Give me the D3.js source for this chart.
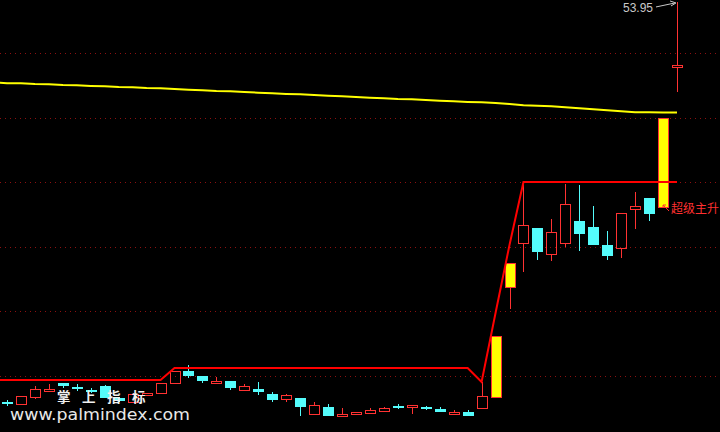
<!DOCTYPE html>
<html><head><meta charset="utf-8">
<script src="https://cdn.jsdelivr.net/npm/d3@7/dist/d3.min.js"></script>
<style>html,body{margin:0;padding:0;background:#000;overflow:hidden}</style>
</head><body><svg id="c" width="720" height="432"></svg>
<script>
// ---- data (prices) ----
const opens  = [22.99,22.83,23.37,23.84,24.46,24.15,23.92,24.23,23.30,22.99,23.53,23.68,24.46,25.39,25.00,24.46,24.61,23.92,23.99,23.61,23.22,23.30,22.06,22.60,21.90,22.06,22.14,22.29,22.68,22.60,22.60,22.45,22.06,22.21,22.52,23.37,31.89,35.29,36.46,34.44,35.29,37.00,36.53,35.14,34.91,37.93,38.78,38.08,48.92];
const highs  = [23.14,23.45,24.23,24.38,24.46,24.38,24.07,24.30,23.37,23.68,23.68,24.46,25.39,25.85,25.00,24.92,24.61,24.38,24.54,23.76,23.61,23.30,22.99,22.83,22.52,22.21,22.52,22.60,22.83,22.76,22.68,22.60,22.37,22.37,24.54,28.10,33.75,40.02,36.46,37.15,39.86,39.78,38.16,36.22,37.62,39.24,38.78,44.97,53.95];
const lows   = [22.68,22.83,23.22,23.84,24.07,23.84,23.68,23.30,22.99,22.99,23.53,23.68,24.46,24.85,24.46,24.46,23.92,23.92,23.53,22.99,22.99,21.90,22.06,21.90,21.90,21.98,22.14,22.29,22.45,22.06,22.37,22.21,22.06,21.90,22.52,23.37,30.19,33.05,33.98,33.90,34.98,34.68,35.14,33.98,34.13,36.38,37.00,38.08,46.98];
const closes = [22.83,23.45,23.99,23.99,24.23,23.99,23.84,23.30,23.07,23.61,23.68,24.46,25.39,25.00,24.61,24.61,24.07,24.23,23.76,23.14,23.53,22.60,22.76,21.90,22.06,22.21,22.37,22.52,22.60,22.76,22.45,22.21,22.21,21.90,23.45,28.10,33.75,36.69,34.60,36.15,38.31,35.99,35.14,34.29,37.62,38.16,37.54,44.97,49.07];
const signalBars = [35, 36, 47];
// moving average, first value belongs to the bar before the visible window (index -1)
const maValues = [47.76,47.65,47.65,47.60,47.58,47.52,47.50,47.45,47.42,47.37,47.35,47.29,47.27,47.21,47.16,47.11,47.06,47.04,46.98,46.93,46.88,46.83,46.80,46.75,46.70,46.65,46.59,46.54,46.49,46.44,46.42,46.36,46.31,46.26,46.21,46.18,46.13,46.05,45.95,45.92,45.87,45.80,45.72,45.64,45.57,45.49,45.42,45.41,45.40,45.39];
// red stepped support line, first value at index -1
const trendValues = [24.69,24.69,24.69,24.69,24.69,24.69,24.69,24.69,24.69,24.69,24.69,24.69,24.69,25.62,25.62,25.62,25.62,25.62,25.62,25.62,25.62,25.62,25.62,25.62,25.62,25.62,25.62,25.62,25.62,25.62,25.62,25.62,25.62,25.62,25.62,24.54,29.88,35.14,40.02,40.02,40.02,40.02,40.02,40.02,40.02,40.02,40.02,40.02,40.02,40.02];
const gridLevels = [25, 30, 35, 40, 45, 50];
const peakLabel = "53.95";
const signalLabel = "超级主升";
const watermarkCn = "掌上指标";
const watermarkUrl = "www.palmindex.com";

// ---- drawing ----
const W = 720, H = 432;
const RED = "#ff3232", CYAN = "#54fcfc", YEL = "#ffff00";
const svg = d3.select("#c");
svg.append("rect").attr("width", W).attr("height", H).attr("fill", "#000");

const x = d3.scaleLinear().domain([0, 48]).range([7, 677]);
const y = d3.scaleLinear().domain([25, 50]).range([376, 53]);

// grid
svg.append("g").selectAll("line").data(gridLevels).join("line")
  .attr("x1", 0).attr("x2", W)
  .attr("y1", d => Math.round(y(d)) + 0.5).attr("y2", d => Math.round(y(d)) + 0.5)
  .attr("stroke", "#8c1010").attr("stroke-width", 1).attr("stroke-dasharray", "1,4");

// MA line
const maData = maValues.map((v, i) => ({i: i - 1, v}));
svg.append("path").datum(maData)
  .attr("fill", "none").attr("stroke", YEL).attr("stroke-width", 2)
  .attr("d", d3.line().x(d => x(d.i)).y(d => y(d.v)));

// candles
const bars = opens.map((o, i) => ({i, o, h: highs[i], l: lows[i], c: closes[i]}));
const g = svg.append("g").attr("shape-rendering", "crispEdges");
bars.forEach(b => {
  const cx = Math.round(x(b.i));
  const up = b.c >= b.o;
  const top = Math.round(y(Math.max(b.o, b.c)));
  const bot = Math.round(y(Math.min(b.o, b.c)));
  const hi = Math.round(y(b.h)), lo = Math.round(y(b.l));
  const sig = signalBars.includes(b.i);
  if (up) {
    if (hi < top) g.append("line").attr("x1", cx + 0.5).attr("x2", cx + 0.5).attr("y1", hi).attr("y2", top).attr("stroke", RED);
    if (lo > bot) g.append("line").attr("x1", cx + 0.5).attr("x2", cx + 0.5).attr("y1", bot).attr("y2", lo).attr("stroke", RED);
    g.append("rect").attr("x", cx - 5 + 0.5).attr("y", top + 0.5)
      .attr("width", 10).attr("height", Math.max(bot - top, 1))
      .attr("fill", sig ? YEL : "none").attr("stroke", RED).attr("stroke-width", 1);
  } else {
    g.append("line").attr("x1", cx + 0.5).attr("x2", cx + 0.5).attr("y1", hi).attr("y2", lo).attr("stroke", CYAN);
    g.append("rect").attr("x", cx - 5).attr("y", top)
      .attr("width", 11).attr("height", Math.max(bot - top, 2))
      .attr("fill", CYAN);
  }
});

// red trend line
const trData = trendValues.map((v, i) => ({i: i - 1, v}));
svg.append("path").datum(trData)
  .attr("fill", "none").attr("stroke", "#ff0000").attr("stroke-width", 2)
  .attr("d", d3.line().x(d => x(d.i)).y(d => y(d.v)));

// peak label
const last = bars[48];
const px = x(48), py = y(last.h);
svg.append("text").attr("x", px - 24).attr("y", py + 10)
  .attr("text-anchor", "end").attr("fill", "#c8c8c8")
  .attr("font-family", "Liberation Sans, Arial, sans-serif").attr("font-size", 12)
  .text(peakLabel);
svg.append("path")
  .attr("d", `M${px - 21},${py + 5} L${px - 2},${py + 1} M${px - 7},${py - 1} L${px - 1},${py + 1} L${px - 6},${py + 4}`)
  .attr("fill", "none").attr("stroke", "#c8c8c8").attr("stroke-width", 1);

// signal label
const sb = bars[47];
const sx = x(47), sy = y(sb.o);
svg.append("path")
  .attr("d", `M${sx + 6},${sy + 4} L${sx},${sy - 2} M${sx},${sy - 2} L${sx + 3},${sy - 2} M${sx},${sy - 2} L${sx},${sy + 1}`)
  .attr("fill", "none").attr("stroke", "#ff3030").attr("stroke-width", 1);
svg.append("text").attr("x", sx + 8).attr("y", sy + 6)
  .attr("fill", "#ff3030")
  .attr("font-family", "Noto Sans CJK SC, sans-serif").attr("font-size", 12)
  .text(signalLabel);

// watermark
svg.append("text").attr("x", 57).attr("y", 402)
  .attr("fill", "#f0f0f0").attr("font-weight", "bold")
  .attr("font-family", "Noto Sans CJK SC, sans-serif").attr("font-size", 13.5)
  .attr("letter-spacing", 11.5)
  .text(watermarkCn);
svg.append("text").attr("x", 10).attr("y", 420)
  .attr("fill", "#e8e8e8")
  .attr("font-family", "DejaVu Sans, Verdana, sans-serif").attr("font-size", 15)
  .attr("textLength", 180).attr("lengthAdjust", "spacingAndGlyphs")
  .text(watermarkUrl);
</script></body></html>
